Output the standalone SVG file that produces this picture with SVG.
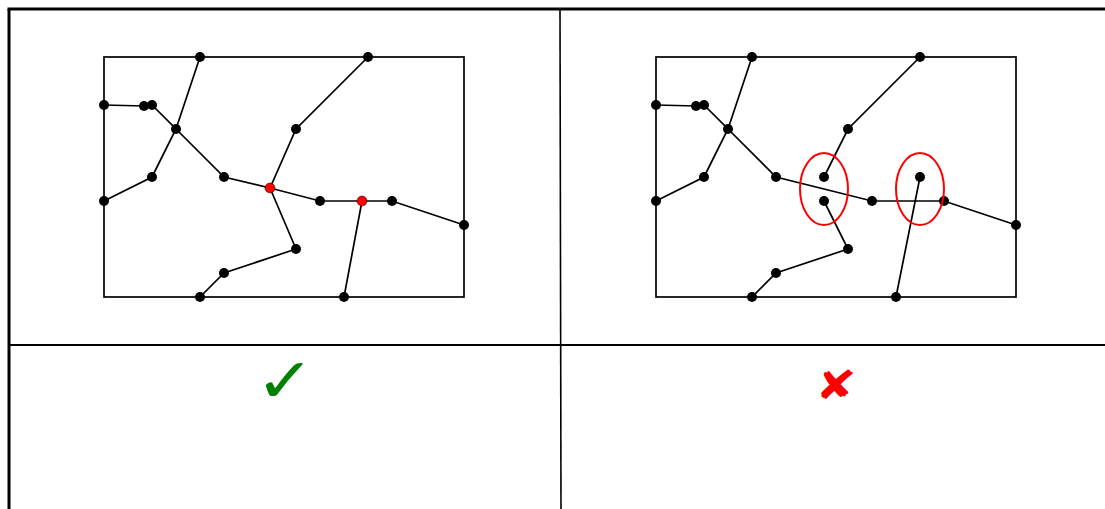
<svg xmlns="http://www.w3.org/2000/svg" width="1105" height="509" viewBox="0 0 1105 509">
<style>
.e{stroke:#000;stroke-width:1.7;fill:none}
.n{fill:#000}
.r{fill:#f00;stroke:#000;stroke-width:0.5}
.box{fill:none;stroke:#000;stroke-width:1.7}
.ring{fill:none;stroke:#f00;stroke-width:2}
.mark{font-family:"DejaVu Sans",sans-serif}
</style>
<rect width="1105" height="509" fill="#fff"/>
<g id="frame">
<line x1="7.5" y1="9" x2="1105" y2="9" stroke="#000" stroke-width="3"/>
<line x1="9" y1="9" x2="9" y2="509" stroke="#000" stroke-width="3"/>
<line x1="560" y1="9" x2="561" y2="509" stroke="#000" stroke-width="1.6"/>
<line x1="9" y1="345" x2="1105" y2="345" stroke="#000" stroke-width="2"/>
</g>
<g id="connectors">
<rect class="box" x="104" y="57" width="360" height="240"/>
<path class="e" d="M200,57L176,129M104,105L144,106M152,105L176,129L152,177L104,201M176,129L224,177L270,188L296,129L368,57M270,188L320,201L392,201L464,225M270,188L296,249L224,273L200,297M362,201L344,297"/>
<rect class="box" x="656" y="57" width="360" height="240"/>
<path class="e" d="M752,57L728,129M656,105L696,106M704,105L728,129L704,177L656,201M728,129L776,177L872,201L944,201L1016,225M824,177L848,129L920,57M824,201L848,249L776,273L752,297M920,177L896,297"/>
</g>
<g id="left-nodes">
<circle class="n" cx="200" cy="57" r="5"/>
<circle class="n" cx="368" cy="57" r="5"/>
<circle class="n" cx="104" cy="105" r="5"/>
<circle class="n" cx="144" cy="106" r="5"/>
<circle class="n" cx="152" cy="105" r="5"/>
<circle class="n" cx="176" cy="129" r="5"/>
<circle class="n" cx="296" cy="129" r="5"/>
<circle class="n" cx="152" cy="177" r="5"/>
<circle class="n" cx="224" cy="177" r="5"/>
<circle class="n" cx="104" cy="201" r="5"/>
<circle class="n" cx="320" cy="201" r="5"/>
<circle class="n" cx="392" cy="201" r="5"/>
<circle class="n" cx="464" cy="225" r="5"/>
<circle class="n" cx="296" cy="249" r="5"/>
<circle class="n" cx="224" cy="273" r="5"/>
<circle class="n" cx="200" cy="297" r="5"/>
<circle class="n" cx="344" cy="297" r="5"/>
<circle class="r" cx="270" cy="188" r="5"/>
<circle class="r" cx="362" cy="201" r="5"/>
</g>
<g id="right-nodes">
<circle class="n" cx="752" cy="57" r="5"/>
<circle class="n" cx="920" cy="57" r="5"/>
<circle class="n" cx="656" cy="105" r="5"/>
<circle class="n" cx="696" cy="106" r="5"/>
<circle class="n" cx="704" cy="105" r="5"/>
<circle class="n" cx="728" cy="129" r="5"/>
<circle class="n" cx="848" cy="129" r="5"/>
<circle class="n" cx="704" cy="177" r="5"/>
<circle class="n" cx="776" cy="177" r="5"/>
<circle class="n" cx="656" cy="201" r="5"/>
<circle class="n" cx="824" cy="177" r="5"/>
<circle class="n" cx="824" cy="201" r="5"/>
<circle class="n" cx="872" cy="201" r="5"/>
<circle class="n" cx="920" cy="177" r="5"/>
<circle class="n" cx="944" cy="201" r="5"/>
<circle class="n" cx="1016" cy="225" r="5"/>
<circle class="n" cx="848" cy="249" r="5"/>
<circle class="n" cx="776" cy="273" r="5"/>
<circle class="n" cx="752" cy="297" r="5"/>
<circle class="n" cx="896" cy="297" r="5"/>
</g>
<g id="highlights">
<ellipse class="ring" cx="824" cy="189" rx="24" ry="36"/>
<ellipse class="ring" cx="920" cy="189" rx="24" ry="36"/>
</g>
<g id="marks">
<text class="mark" transform="translate(285,402) scale(1.15,1)" font-size="62" font-weight="bold" fill="#008000" text-anchor="middle">✓</text>
<text class="mark" transform="translate(836,399) scale(1.25,1)" font-size="40" fill="#f00" text-anchor="middle">✘</text>
</g>
</svg>
